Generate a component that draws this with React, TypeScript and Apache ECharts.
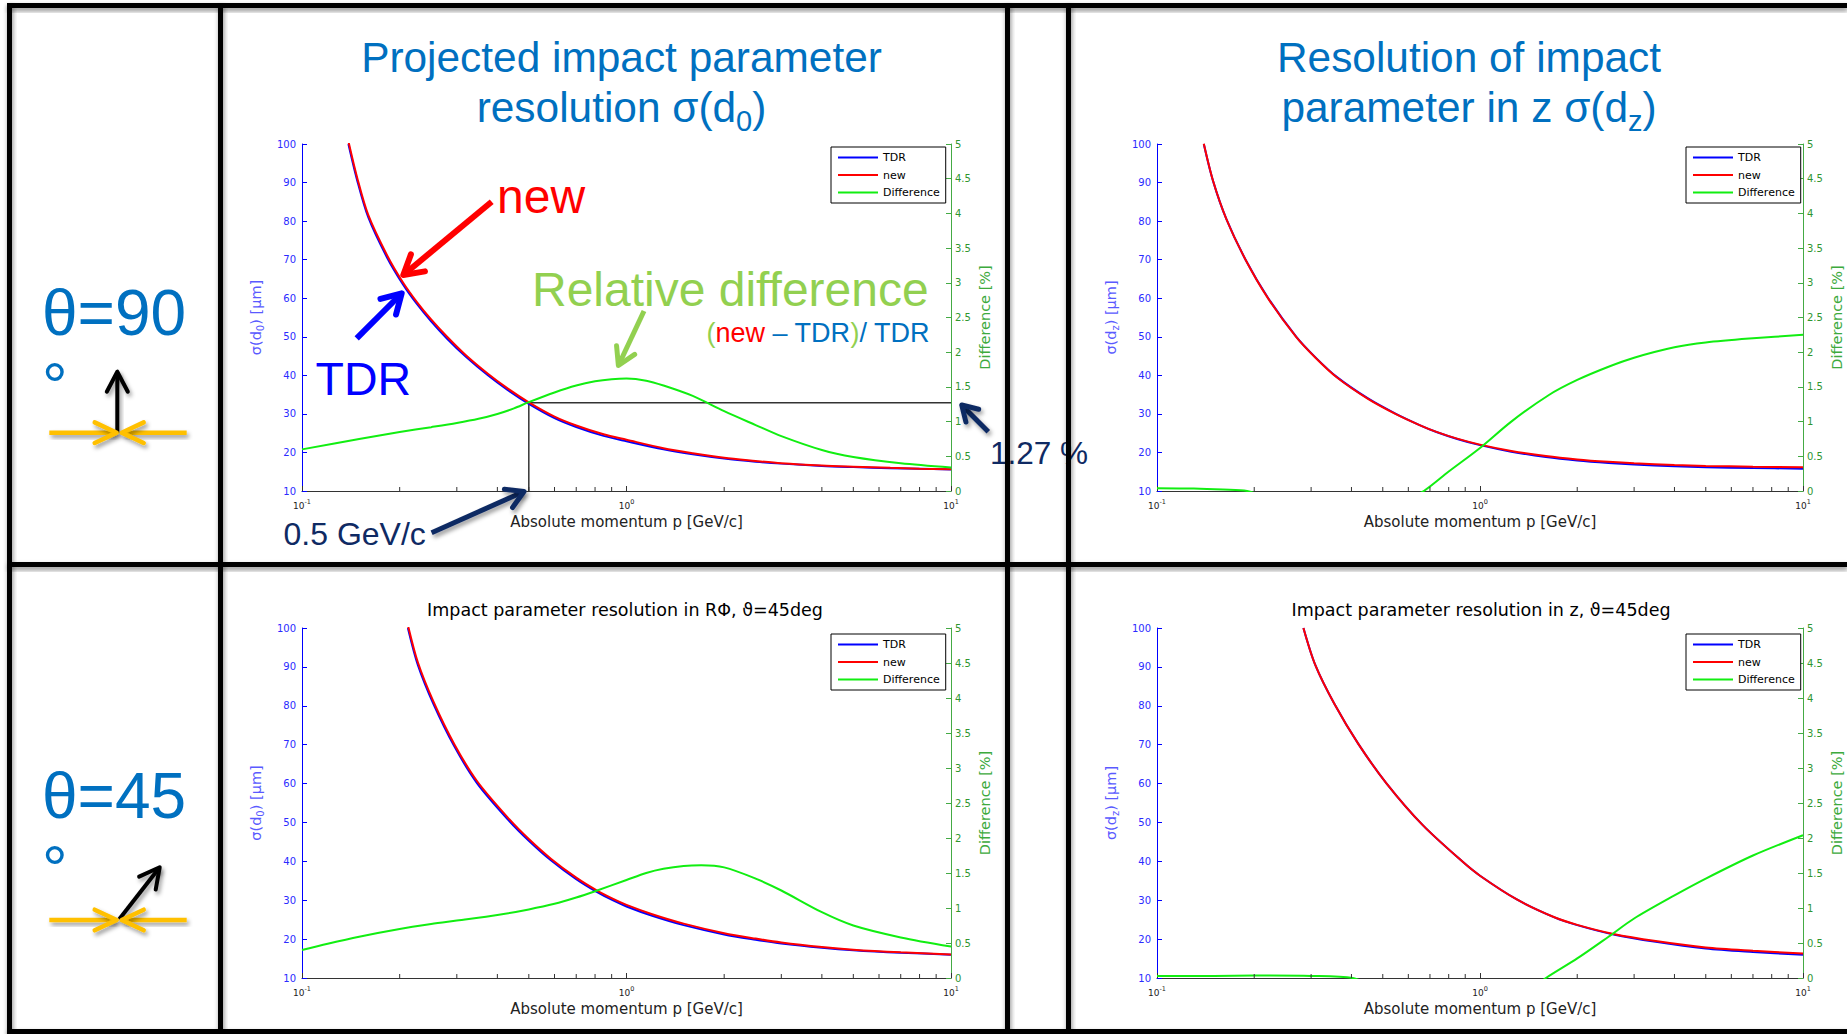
import React, { useEffect, useRef } from "react";
import * as echarts from "echarts";

// ---------- data ----------
const MINOR_TICKS = [0.2, 0.3, 0.4, 0.5, 0.6, 0.7, 0.8, 0.9, 2, 3, 4, 5, 6, 7, 8, 9];
const LEGEND_NAMES = ["TDR", "new", "Difference"];

// Panel 1 : theta = 90 deg, sigma(d0)
const d0_90_p = [0.139, 0.148, 0.16, 0.183, 0.205, 0.226, 0.25, 0.28, 0.32, 0.374, 0.43, 0.5, 0.6, 0.7, 0.85, 1, 1.3, 1.6, 2, 2.5, 3, 4, 5, 6.5, 8, 10];
const d0_90_tdr = [100, 90.5, 81, 70.5, 63.5, 58.5, 54, 49.5, 44.8, 40, 36.2, 32.6, 28.9, 26.6, 24.3, 22.9, 20.8, 19.5, 18.4, 17.6, 17.1, 16.5, 16.2, 15.9, 15.75, 15.6];
const d0_90_new = [100.7, 91.2, 81.6, 71.1, 64.0, 59.0, 54.5, 50.0, 45.2, 40.4, 36.6, 33.0, 29.3, 27.0, 24.7, 23.3, 21.1, 19.8, 18.6, 17.8, 17.2, 16.6, 16.3, 16.0, 15.8, 15.65];
const d0_90_diffP = [0.1, 0.15, 0.2, 0.25, 0.3, 0.35, 0.4, 0.45, 0.5, 0.6, 0.7, 0.8, 0.9, 1.0, 1.15, 1.3, 1.6, 2, 2.5, 3, 4, 5, 7, 10];
const d0_90_diff = [0.6, 0.75, 0.85, 0.92, 0.98, 1.04, 1.11, 1.19, 1.28, 1.42, 1.52, 1.58, 1.61, 1.62, 1.59, 1.52, 1.37, 1.15, 0.95, 0.79, 0.59, 0.49, 0.4, 0.34];
const guideP = [10, 0.5, 0.5];
const guideV = [1.27, 1.27, 0];

// Panel 2 : theta = 90 deg, sigma(dz)
const dz_90_p = [0.1396, 0.149, 0.164, 0.188, 0.221, 0.27, 0.31, 0.36, 0.45, 0.549, 0.65, 0.733, 0.85, 1, 1.25, 1.6, 2, 2.5, 3, 4, 5, 7, 10];
const dz_90_tdr = [100, 90.5, 80.5, 70, 60, 50, 44.6, 39.6, 34.0, 30.0, 27.1, 25.3, 23.5, 21.9, 20.2, 18.8, 17.9, 17.25, 16.85, 16.4, 16.15, 15.95, 15.8];
const dz_90_new = [100.04, 90.53, 80.52, 70, 59.9, 49.9, 44.5, 39.5, 33.9, 29.94, 27.1, 25.34, 23.58, 22.03, 20.4, 19.06, 18.19, 17.56, 17.17, 16.74, 16.5, 16.3, 16.16];
const dz_90_diffP = [0.1, 0.13, 0.16, 0.19, 0.25, 0.35, 0.5, 0.6, 0.67, 0.8, 1, 1.25, 1.63, 2, 2.5, 3, 4, 5, 7, 10];
const dz_90_diff = [0.04, 0.035, 0.02, 0, -0.2, -0.35, -0.25, -0.1, 0, 0.28, 0.62, 1.0, 1.38, 1.6, 1.79, 1.92, 2.07, 2.14, 2.2, 2.25];

// Panel 3 : theta = 45 deg, sigma(d0)
const d0_45_p = [0.212, 0.2275, 0.254, 0.295, 0.347, 0.436, 0.5, 0.586, 0.7, 0.807, 0.906, 1, 1.2, 1.5, 2, 2.5, 3, 4, 5, 7, 10];
const d0_45_tdr = [100, 90.5, 80.5, 69.5, 60, 50.3, 45.3, 40.2, 35.4, 32.2, 30.0, 28.4, 26.0, 23.6, 21.2, 19.85, 18.9, 17.8, 17.15, 16.5, 16.0];
const d0_45_new = [100.73, 91.19, 81.13, 70.07, 60.52, 50.77, 45.74, 40.62, 35.81, 32.6, 30.4, 28.8, 26.4, 23.98, 21.53, 20.13, 19.14, 17.97, 17.28, 16.6, 16.07];
const d0_45_diffP = [0.1, 0.12, 0.15, 0.2, 0.25, 0.3, 0.4, 0.5, 0.6, 0.7, 0.8, 1.0, 1.15, 1.3, 1.5, 1.7, 2, 2.5, 3, 4, 5, 7, 10];
const d0_45_diff = [0.4, 0.49, 0.59, 0.7, 0.77, 0.82, 0.9, 0.98, 1.06, 1.15, 1.24, 1.4, 1.5, 1.56, 1.6, 1.61, 1.58, 1.42, 1.25, 0.94, 0.75, 0.58, 0.45];

// Panel 4 : theta = 45 deg, sigma(dz)
const dz_45_p = [0.284, 0.309, 0.354, 0.42, 0.514, 0.665, 0.886, 1.0, 1.3, 1.7, 2, 2.59, 3.5, 5, 7, 10];
const dz_45_tdr = [100, 90.5, 80.5, 70.2, 60, 49.3, 39.8, 36.3, 30.2, 25.6, 23.6, 21.2, 19.3, 17.6, 16.7, 15.95];
const dz_45_new = [100, 90.5, 80.5, 70.2, 60, 49.3, 39.8, 36.3, 30.2, 25.62, 23.67, 21.33, 19.5, 17.85, 17.0, 16.28];
const dz_45_diffP = [0.1, 0.15, 0.2, 0.3, 0.404, 0.5, 0.7, 1.0, 1.3, 1.6, 2, 2.5, 3, 4, 5, 7, 10];
const dz_45_diff = [0.03, 0.03, 0.035, 0.03, 0, -0.2, -0.4, -0.45, -0.3, 0, 0.28, 0.59, 0.85, 1.18, 1.42, 1.75, 2.04];

// ---------- styles ----------
const FONT_PPT = "Liberation Sans, Arial, sans-serif";
const FONT_ML = "DejaVu Sans, sans-serif";
const TITLE_BLUE = "#0070c0";
const NAVY = "#0f2a63";
const ORANGE = "#ffc000";
const LIGHT_GREEN = "#92d050";
const C_TDR = "#0000ff";
const C_NEW = "#ff0000";
const C_DIFF = "#11ee11";

const zip = (xs: number[], ys: number[]) => xs.map((x, i) => [x, ys[i]]);

const panels = [
  {
    grid: { left: 302, top: 144, width: 649, height: 347 },
    yName: "σ(d{s|0}) [μm]",
    p: d0_90_p, tdr: d0_90_tdr, nw: d0_90_new, dp: d0_90_diffP, d: d0_90_diff,
    legend: { left: 831, top: 147 },
  },
  {
    grid: { left: 1157, top: 144, width: 650, height: 347 },
    yName: "σ(d{s|z}) [μm]",
    p: dz_90_p, tdr: dz_90_tdr, nw: dz_90_new, dp: dz_90_diffP, d: dz_90_diff,
    legend: { left: 1686, top: 147 },
  },
  {
    grid: { left: 302, top: 628, width: 649, height: 350 },
    yName: "σ(d{s|0}) [μm]",
    p: d0_45_p, tdr: d0_45_tdr, nw: d0_45_new, dp: d0_45_diffP, d: d0_45_diff,
    legend: { left: 831, top: 634 },
  },
  {
    grid: { left: 1157, top: 628, width: 650, height: 350 },
    yName: "σ(d{s|z}) [μm]",
    p: dz_45_p, tdr: dz_45_tdr, nw: dz_45_new, dp: dz_45_diffP, d: dz_45_diff,
    legend: { left: 1686, top: 634 },
  },
];

function arrowEls(a: any[]) {
  const [x1, y1, x2, y2, color, w, hl, hw, shadow] = a;
  const dx = x2 - x1, dy = y2 - y1;
  const L = Math.hypot(dx, dy);
  const ux = dx / L, uy = dy / L, nx = -uy, ny = ux;
  const bx = x2 - ux * hl, by = y2 - uy * hl;
  const sh = shadow
    ? { shadowBlur: 4, shadowOffsetX: 2, shadowOffsetY: 3, shadowColor: "rgba(0,0,0,0.4)" }
    : {};
  const ex = x2 - ux * w * 0.4, ey = y2 - uy * w * 0.4;
  const h = w / 2;
  return [
    {
      type: "polygon", z: 100,
      shape: {
        points: [
          [x1 + nx * h, y1 + ny * h], [ex + nx * h, ey + ny * h],
          [ex - nx * h, ey - ny * h], [x1 - nx * h, y1 - ny * h],
        ],
      },
      style: { fill: color, ...sh },
    },
    {
      type: "polyline", z: 100,
      shape: { points: [[bx + nx * hw, by + ny * hw], [x2, y2], [bx - nx * hw, by - ny * hw]] },
      style: { stroke: color, lineWidth: w, lineCap: "round", lineJoin: "round", fill: null, ...sh },
    },
  ];
}

function txt(x: number, y: number, text: string, fontSize: number, fill: string, align: string, family: string, extra: any = {}) {
  return {
    type: "text", z: 100, x, y,
    style: {
      text, fontSize, fill, fontFamily: family,
      align, textAlign: align, verticalAlign: "middle", textVerticalAlign: "middle",
      ...extra,
    },
  };
}

function buildOption() {
  const grids: any[] = [];
  const xAxes: any[] = [];
  const yAxes: any[] = [];
  const series: any[] = [];
  const legends: any[] = [];

  panels.forEach((pn, i) => {
    grids.push({ ...pn.grid, containLabel: false });
    xAxes.push({
      type: "log", logBase: 10, gridIndex: i, min: 0.1, max: 10,
      name: "Absolute momentum p [GeV/c]", nameLocation: "middle", nameGap: 22,
      nameTextStyle: { color: "#222", fontSize: 15, fontFamily: FONT_ML, lineHeight: 18 },
      axisLine: { show: true, onZero: false, lineStyle: { color: "#333", width: 1 } },
      axisTick: { show: true, inside: true, length: 5, lineStyle: { color: "#333" } },
      splitLine: { show: false },
      minorTick: { show: false },
      axisLabel: {
        margin: 7, color: "#222", showMinLabel: true, showMaxLabel: true,
        formatter: (v: number) => `{b|10}{e|${Math.round(Math.log10(v))}}`,
        rich: {
          b: { fontSize: 9, lineHeight: 12, verticalAlign: "bottom", fontFamily: FONT_ML, color: "#222" },
          e: { fontSize: 6.5, lineHeight: 8, verticalAlign: "top", fontFamily: FONT_ML, color: "#222" },
        },
      },
    });
    yAxes.push({
      type: "value", gridIndex: i, position: "left", min: 10, max: 100, interval: 10,
      name: pn.yName, nameLocation: "middle", nameRotate: 90, nameGap: 37,
      nameTextStyle: {
        color: "#5a5aff", fontSize: 14.5, fontFamily: FONT_ML, lineHeight: 18,
        rich: { s: { fontSize: 10, lineHeight: 10, verticalAlign: "bottom", color: "#5a5aff", fontFamily: FONT_ML } },
      },
      axisLine: { show: true, lineStyle: { color: C_TDR, width: 1 } },
      axisTick: { show: true, inside: true, length: 5, lineStyle: { color: C_TDR } },
      splitLine: { show: false },
      axisLabel: { color: "#2b2bff", fontSize: 10, margin: 6, fontFamily: FONT_ML },
    });
    yAxes.push({
      type: "value", gridIndex: i, position: "right", min: 0, max: 5, interval: 0.5,
      name: "Difference [%]", nameLocation: "middle", nameRotate: 90, nameGap: 25,
      nameTextStyle: { color: "#3daa3d", fontSize: 14.5, fontFamily: FONT_ML, lineHeight: 18 },
      axisLine: { show: true, lineStyle: { color: "#44aa44", width: 1 } },
      axisTick: { show: true, inside: true, length: 5, lineStyle: { color: "#44aa44" } },
      splitLine: { show: false },
      axisLabel: { color: "#2f962f", fontSize: 10, margin: 4, fontFamily: FONT_ML },
    });

    const common = { type: "line", xAxisIndex: i, showSymbol: false, symbol: "none", silent: true, smooth: 0.3 };
    series.push({
      ...common, name: "TDR", yAxisIndex: 2 * i, data: zip(pn.p, pn.tdr),
      color: C_TDR, itemStyle: { color: C_TDR }, lineStyle: { color: C_TDR, width: 2 }, z: 2,
    });
    series.push({
      ...common, name: "new", yAxisIndex: 2 * i, data: zip(pn.p, pn.nw),
      color: C_NEW, itemStyle: { color: C_NEW }, lineStyle: { color: C_NEW, width: 2 }, z: 3,
    });
    series.push({
      ...common, name: "Difference", yAxisIndex: 2 * i + 1, data: zip(pn.dp, pn.d),
      color: C_DIFF, itemStyle: { color: C_DIFF }, lineStyle: { color: C_DIFF, width: 2 }, z: 3,
    });
    series.push({
      type: "custom", name: "minor", xAxisIndex: i, yAxisIndex: 2 * i, silent: true, clip: false, z: 4,
      data: MINOR_TICKS.map((v) => [v, 10]),
      renderItem: (_params: any, api: any) => {
        const c = api.coord([api.value(0), 10]);
        return {
          type: "line",
          shape: { x1: c[0], y1: c[1], x2: c[0], y2: c[1] - 4 },
          style: { stroke: "#333", lineWidth: 1 },
        };
      },
    });

    legends.push({
      data: LEGEND_NAMES, left: pn.legend.left, top: pn.legend.top, orient: "vertical",
      icon: "rect", itemWidth: 40, itemHeight: 2, itemGap: 4.5, selectedMode: false,
      padding: [4, 6, 4, 7], borderColor: "#000", borderWidth: 1, backgroundColor: "#fff",
      textStyle: { fontSize: 11, lineHeight: 13, color: "#000", fontFamily: FONT_ML },
    });
  });

  series.push({
    type: "line", name: "guide", xAxisIndex: 0, yAxisIndex: 1, data: zip(guideP, guideV),
    showSymbol: false, symbol: "none", silent: true, z: 1,
    lineStyle: { color: "#333", width: 1.5 }, itemStyle: { color: "#333" },
  });

  // ---------- annotations ----------
  const el: any[] = [];
  el.push(txt(621.5, 57.5, "Projected impact parameter", 42.4, TITLE_BLUE, "center", FONT_PPT));
  el.push({
    type: "text", z: 100, x: 621.5, y: 79.5,
    style: {
      text: "resolution σ(d{s|0})", fontSize: 42.4, lineHeight: 56, fill: TITLE_BLUE, fontFamily: FONT_PPT,
      align: "center", textAlign: "center", verticalAlign: "top", textVerticalAlign: "top",
      rich: { s: { fontSize: 29, lineHeight: 29, verticalAlign: "bottom", fill: TITLE_BLUE, fontFamily: FONT_PPT } },
    },
  });
  el.push(txt(1469, 57.5, "Resolution of impact", 42.4, TITLE_BLUE, "center", FONT_PPT));
  el.push({
    type: "text", z: 100, x: 1469, y: 79.5,
    style: {
      text: "parameter in z σ(d{s|z})", fontSize: 42.4, lineHeight: 56, fill: TITLE_BLUE, fontFamily: FONT_PPT,
      align: "center", textAlign: "center", verticalAlign: "top", textVerticalAlign: "top",
      rich: { s: { fontSize: 29, lineHeight: 29, verticalAlign: "bottom", fill: TITLE_BLUE, fontFamily: FONT_PPT } },
    },
  });
  el.push(txt(625, 609.5, "Impact parameter resolution in RΦ, ϑ=45deg", 17.5, "#000", "center", FONT_ML));
  el.push(txt(1481, 609.5, "Impact parameter resolution in z, ϑ=45deg", 17.5, "#000", "center", FONT_ML));

  // left column
  el.push(txt(42, 313, "θ=90", 64, TITLE_BLUE, "left", FONT_PPT));
  el.push(txt(42, 386, "°", 64, TITLE_BLUE, "left", FONT_PPT));
  el.push(txt(42, 796.3, "θ=45", 64, TITLE_BLUE, "left", FONT_PPT));
  el.push(txt(42, 869, "°", 64, TITLE_BLUE, "left", FONT_PPT));

  // in-plot annotations
  el.push(txt(497, 196.4, "new", 48, C_NEW, "left", FONT_PPT));
  el.push(txt(315.5, 379, "TDR", 46.5, C_TDR, "left", FONT_PPT));
  el.push(txt(532, 289, "Relative difference", 48, LIGHT_GREEN, "left", FONT_PPT));
  el.push({
    type: "text", z: 100, x: 706.5, y: 333,
    style: {
      text: "{g|(}{r|new}{b| – TDR}{g|)}{b|/ TDR}", fontSize: 27, fontFamily: FONT_PPT, fill: TITLE_BLUE,
      align: "left", textAlign: "left", verticalAlign: "middle", textVerticalAlign: "middle",
      rich: {
        g: { fontSize: 27, fill: LIGHT_GREEN, fontFamily: FONT_PPT },
        r: { fontSize: 27, fill: C_NEW, fontFamily: FONT_PPT },
        b: { fontSize: 27, fill: TITLE_BLUE, fontFamily: FONT_PPT },
      },
    },
  });
  el.push(txt(283.5, 534, "0.5 GeV/c", 32, NAVY, "left", FONT_PPT));
  el.push(txt(990, 452.5, "1.27 %", 31.5, NAVY, "left", FONT_PPT));

  const ARROWS = [
    [117.3, 433, 117.3, 371.7, "#000", 4, 20, 10.5, true],
    [49.3, 432.7, 116.7, 432.7, ORANGE, 4.5, 22, 10.3, true],
    [186.7, 432.7, 121.7, 432.7, ORANGE, 4.5, 22, 10.3, true],
    [119.2, 919.3, 159.7, 867.3, "#000", 4, 20, 10.5, true],
    [49.3, 920, 116.7, 920, ORANGE, 4.5, 22, 10.3, true],
    [186.7, 920, 121.7, 920, ORANGE, 4.5, 22, 10.3, true],
    [491.7, 201.7, 403.3, 275, C_NEW, 6, 19, 11, false],
    [356.7, 338.3, 401.7, 293.3, C_TDR, 6, 19, 11, false],
    [644, 311, 618.4, 365.5, LIGHT_GREEN, 5, 17, 10, false],
    [431.6, 532.7, 524, 491.5, NAVY, 5, 17, 10, true],
    [988.3, 431.7, 961.7, 405, NAVY, 5, 15, 9, true],
  ];
  ARROWS.forEach((a) => arrowEls(a).forEach((e) => el.push(e)));

  // frame
  const frameSh = { shadowBlur: 5, shadowOffsetX: 1, shadowOffsetY: 3, shadowColor: "rgba(0,0,0,0.45)" };
  const FRAME = [
    [7, 3, 1840, 5], [7, 562, 1840, 5], [7, 1029, 1840, 5],
    [7, 3, 5, 1031], [218, 3, 5, 1031], [1005, 3, 5, 1031], [1066, 3, 5, 1031],
  ];
  FRAME.forEach(([x, y, w, h]) =>
    el.push({ type: "rect", z: 200, shape: { x, y, width: w, height: h }, style: { fill: "#000", ...frameSh } })
  );

  return {
    animation: false,
    backgroundColor: "#fff",
    textStyle: { fontFamily: FONT_ML },
    grid: grids,
    xAxis: xAxes,
    yAxis: yAxes,
    legend: legends,
    series,
    graphic: { elements: el },
  };
}

export default function App() {
  const ref = useRef<HTMLDivElement>(null);
  useEffect(() => {
    document.body.style.margin = "0";
    if (!ref.current) return;
    const chart = echarts.init(ref.current, undefined, { renderer: "svg" });
    chart.setOption(buildOption() as any);
    return () => chart.dispose();
  }, []);
  return <div ref={ref} style={{ width: 1847, height: 1034, overflow: "hidden" }} />;
}
